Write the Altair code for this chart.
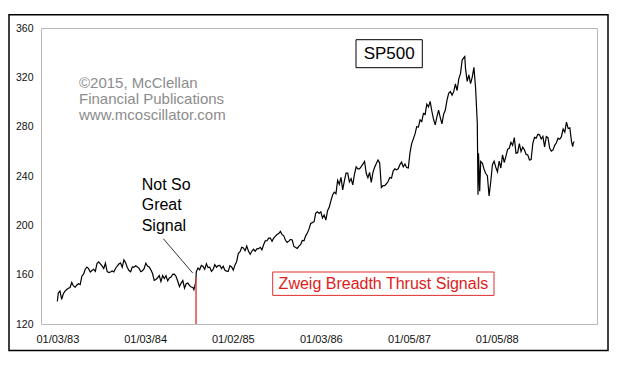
import altair as alt
import pandas as pd

# Weekly (Friday) closes of the S&P 500
y1983 = [145.2, 146.7, 139.97, 144.5, 146.6, 148.0, 149.0, 149.6, 153.7, 150.9, 149.8, 151.6,
         152.6, 152.0, 158.75, 160.4, 164.4, 166.1, 164.9, 162.1, 163.4, 164.4, 162.7, 169.1,
         170.4, 168.8, 167.1, 165.0, 169.3, 162.6, 161.7, 162.2, 163.0, 162.3, 165.0, 167.0,
         168.6, 169.5, 166.1, 172.0, 169.6, 165.8, 163.4, 162.4, 166.3, 166.1, 167.2, 166.3,
         165.1, 162.4, 163.2, 164.9]
y1984 = [169.3, 167.0, 166.2, 163.9, 160.9, 155.4, 156.1, 157.5, 159.2, 154.35, 159.3, 156.9,
         159.2, 155.0, 157.3, 158.0, 160.3, 160.5, 158.5, 154.7, 150.3, 153.2, 155.2, 149.0,
         152.6, 153.2, 151.1, 150.0, 149.6, 150.1, 162.35, 165.4, 164.1, 167.5, 166.7, 164.3,
         168.8, 165.7, 166.1, 162.7, 164.2, 168.1, 166.0, 167.4, 167.6, 165.0, 166.9, 163.6,
         162.8, 162.7, 167.3, 166.3]
y1985 = [163.7, 167.9, 170.7, 177.35, 178.6, 182.2, 181.6, 179.4, 183.2, 179.1, 176.5, 179.0,
         180.7, 179.0, 180.9, 181.1, 182.2, 180.1, 184.3, 187.4, 187.5, 189.6, 189.7, 187.1,
         189.6, 191.2, 192.5, 193.3, 195.1, 192.4, 191.5, 187.9, 186.1, 187.2, 188.6, 188.2,
         182.9, 182.05, 181.3, 183.2, 184.3, 187.7, 187.5, 191.5, 193.7, 197.1, 201.5, 202.2,
         202.99, 209.9, 210.9, 209.6]
y1986 = [210.9, 205.96, 208.4, 204.25, 211.8, 214.6, 219.8, 224.6, 226.9, 225.6, 236.5, 233.3,
         238.9, 228.7, 235.97, 242.4, 242.3, 235.2, 237.9, 232.8, 241.35, 247.35, 245.7, 245.7,
         247.6, 249.6, 251.8, 242.2, 238.7, 242.9, 234.9, 243.0, 247.1, 250.2, 252.9, 250.5,
         230.7, 232.2, 232.2, 233.7, 235.5, 238.8, 238.3, 243.98, 245.8, 245.1, 245.9, 249.2,
         251.2, 247.35, 249.7, 246.8]
y1987 = [246.45, 258.7, 266.3, 270.1, 274.1, 280.0, 279.7, 285.5, 284.2, 290.7, 289.9, 298.2,
         296.1, 300.5, 292.5, 286.0, 281.5, 288.0, 293.4, 287.4, 282.2, 290.1, 293.45, 301.6,
         306.97, 308.4, 305.6, 308.4, 314.6, 309.3, 318.7, 323.0, 333.99, 335.9, 327.0, 316.7,
         321.98, 314.9, 320.2, 328.07, 311.1, 282.7, 248.2, 251.8, 250.4, 245.6, 242.0, 240.3,
         223.9, 235.3, 249.2, 252.0]
y1988 = [247.1, 243.4, 252.05, 246.5, 257.1, 250.96, 255.95, 261.6, 262.5, 267.3, 264.9, 271.1,
         258.5, 258.9, 266.2, 259.75, 263.4, 261.3, 257.5, 257.1, 253.0, 253.4, 266.45, 271.3,
         270.7, 273.8, 273.5, 270.0, 272.05, 263.5, 272.0, 271.1, 262.75, 260.2, 261.1, 264.9,
         266.9, 270.65, 269.8, 271.9, 278.1, 275.5, 283.7, 278.5, 279.1, 267.9, 266.5]

# Extra daily closes at turning points
extra_dates = ["1983-01-03", "1984-07-24", "1984-08-01", "1984-08-02", "1987-08-25",
               "1987-10-19", "1987-10-20", "1987-10-21", "1987-10-26", "1987-10-29",
               "1988-11-16", "1988-11-22"]
extra_vals = [138.3, 147.8, 154.1, 157.99, 336.8, 224.8, 236.8, 258.4, 227.7, 244.8,
              263.8, 268.0]

# Zweig Breadth Thrust signal
signal_dates = ["1984-08-02"]
signal_vals = [157.7]

tick_dates = ["1983-01-03", "1984-01-03", "1985-01-02", "1986-01-03", "1987-01-05", "1988-01-05"]
y_ticks = [120, 160, 200, 240, 280, 320, 360]

weekly = y1983 + y1984 + y1985 + y1986 + y1987 + y1988
fridays = pd.date_range("1983-01-07", periods=len(weekly), freq="W-FRI")
df = pd.concat([
    pd.DataFrame({"date": fridays, "value": weekly}),
    pd.DataFrame({"date": pd.to_datetime(extra_dates), "value": extra_vals}),
]).sort_values("date")
df["date"] = df["date"].dt.strftime("%Y-%m-%d")

sig = pd.DataFrame({"date": signal_dates, "top": signal_vals})


def ms(s):
    return int(pd.Timestamp(s, tz="UTC").value // 10**6)


FONT = "Liberation Sans"
xscale = alt.Scale(type="utc", domain=[ms("1982-10-27"), ms("1989-02-25")])
yscale = alt.Scale(domain=[120, 360], nice=False, zero=False)

line = alt.Chart(df).mark_line(color="black", strokeWidth=1.2).encode(
    x=alt.X("date:T", scale=xscale, title=None,
            axis=alt.Axis(values=[ms(d) for d in tick_dates], format="%m/%d/%y",
                          ticks=False, domain=False, grid=False, labelFontSize=11,
                          labelPadding=9, labelColor="#111", labelFont=FONT)),
    y=alt.Y("value:Q", scale=yscale, title=None,
            axis=alt.Axis(values=y_ticks, ticks=False, domain=False, grid=False,
                          labelFontSize=10.5, labelPadding=8, labelColor="#111",
                          labelFont=FONT)),
)

signal = alt.Chart(sig).mark_rule(color="#e04848", strokeWidth=1.5).encode(
    x=alt.X("date:T", scale=xscale),
    y=alt.Y("top:Q", scale=yscale),
    y2=alt.datum(120),
)

one = pd.DataFrame({"k": [0]})


def box(x1, x2, y1, y2, stroke, width, fill=None):
    kw = dict(stroke=stroke, strokeWidth=width)
    if fill is None:
        kw["fillOpacity"] = 0
    else:
        kw["fill"] = fill
    return alt.Chart(one).mark_rect(**kw).encode(
        x=alt.value(x1), x2=alt.value(x2), y=alt.value(y1), y2=alt.value(y2))


def label(txt, x, y, size, color="black", align="left"):
    return alt.Chart(one).mark_text(text=txt, fontSize=size, font=FONT, color=color,
                                    align=align, baseline="middle").encode(
        x=alt.value(x), y=alt.value(y))


outer = box(-32, 567, -13.3, 322.4, "black", 1.5)
sp_box = box(315, 381.3, 11.7, 39.7, "black", 1, fill="white")
sp_txt = label("SP500", 348.2, 26, 17, align="center")
zw_box = box(231.7, 453, 244, 267.4, "#e03030", 1, fill="white")
zw_txt = label("Zweig Breadth Thrust Signals", 342.4, 256, 16, color="#e01b1b", align="center")

copy = [label(t, 38, yy, 15, color="#8c8c8c") for t, yy in
        [("©2015, McClellan", 55), ("Financial Publications", 70.7), ("www.mcoscillator.com", 86.5)]]
note = [label(t, 100.7, yy, 16) for t, yy in
        [("Not So", 156.7), ("Great", 177.4), ("Signal", 197.9)]]
pointer = alt.Chart(one).mark_rule(color="#333", strokeWidth=1).encode(
    x=alt.value(122.3), x2=alt.value(151.7), y=alt.value(210.7), y2=alt.value(245))

chart = alt.layer(
    outer, line, signal, sp_box, sp_txt, zw_box, zw_txt, *copy, *note, pointer
).properties(
    width=556, height=296,
    padding={"left": 33, "top": 20, "right": 20, "bottom": 32},
    autosize=alt.AutoSizeParams(type="none"),
    background="white",
).configure_view(stroke="#b8b8b8", strokeWidth=1, fill="white")

chart.save("out.html", embed_options={"renderer": "svg", "actions": False})
